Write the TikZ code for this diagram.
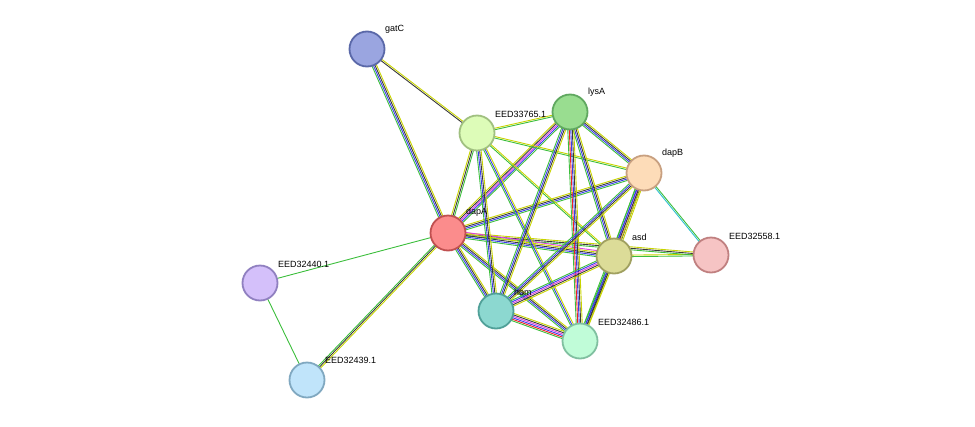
\documentclass[tikz,border=0pt]{standalone}
\usepackage{fontspec}
\setmainfont{Liberation Sans}
\usetikzlibrary{calc}
\definecolor{sG}{HTML}{3CBE3C}\definecolor{sK}{HTML}{3A3A3A}\definecolor{sY}{HTML}{C8D400}
\definecolor{sB}{HTML}{3A3AEE}\definecolor{sM}{HTML}{E040E0}\definecolor{sC}{HTML}{30C0D0}\definecolor{sR}{HTML}{EE2020}
\newcommand\stedge[4]{\foreach \c [count=\i] in {#4}{\pgfmathsetmacro\o{(\i-(#3+1)/2)*1.5}
 \draw[\c,line width=0.9pt] ($(#1)!\o pt!90:(#2)$) -- ($(#2)!\o pt!-90:(#1)$);}}
\begin{document}
\begin{tikzpicture}[x=1pt,y=-1pt,
 nd/.style={circle,minimum size=35pt,inner sep=0pt,line width=1.8pt},
 lb/.style={anchor=south west,font=\fontsize{9}{10}\selectfont,inner sep=0pt}]
\useasboundingbox (0,0) rectangle (975,426);
\coordinate (gatC) at (367,49);
\coordinate (e765) at (477,133);
\coordinate (lysA) at (570,112);
\coordinate (dapB) at (644,173);
\coordinate (dapA) at (448,233);
\coordinate (asd) at (614,256);
\coordinate (e558) at (711,255);
\coordinate (e440) at (260,283);
\coordinate (hom) at (496,311);
\coordinate (e486) at (580,341);
\coordinate (e439) at (307,380);
\stedge{gatC}{dapA}{4}{sG,sB,sK,sY}
\stedge{gatC}{e765}{2}{sK,sY}
\stedge{dapA}{e440}{1}{sG}
\stedge{e440}{e439}{1}{sG}
\stedge{dapA}{e439}{3}{sG,sK,sY}
\stedge{dapB}{e558}{2}{sC,sG}
\stedge{asd}{e558}{2}{sG,sY}
\stedge{dapA}{e558}{3}{sG,sK,sY}
\stedge{dapA}{lysA}{5}{sG,sB,sM,sK,sY}
\stedge{dapA}{dapB}{4}{sG,sB,sK,sY}
\stedge{dapA}{asd}{5}{sG,sB,sK,sY,sM}
\stedge{dapA}{hom}{4}{sG,sB,sK,sY}
\stedge{dapA}{e486}{4}{sG,sB,sK,sY}
\stedge{dapA}{e765}{3}{sG,sK,sY}
\stedge{e765}{lysA}{2}{sG,sY}
\stedge{e765}{dapB}{2}{sG,sY}
\stedge{e765}{asd}{2}{sG,sY}
\stedge{e765}{hom}{4}{sG,sB,sK,sY}
\stedge{e765}{e486}{3}{sG,sB,sY}
\stedge{lysA}{dapB}{4}{sG,sB,sK,sY}
\stedge{lysA}{asd}{4}{sG,sB,sK,sY}
\stedge{lysA}{hom}{4}{sG,sB,sK,sY}
\stedge{lysA}{e486}{5}{sG,sR,sB,sK,sY}
\stedge{dapB}{asd}{5}{sG,sB,sM,sK,sY}
\stedge{dapB}{hom}{4}{sG,sB,sK,sY}
\stedge{dapB}{e486}{4}{sG,sB,sK,sY}
\stedge{asd}{hom}{5}{sG,sB,sM,sK,sY}
\stedge{asd}{e486}{4}{sG,sB,sK,sY}
\stedge{hom}{e486}{6}{sG,sR,sB,sM,sK,sY}
\node[nd,fill={rgb,255:red,154;green,165;blue,224},draw={rgb,255:red,90;green,104;blue,168}] (ngatC) at (gatC) {};
\node[nd,fill={rgb,255:red,221;green,252;blue,184},draw={rgb,255:red,160;green,192;blue,128}] (ne765) at (e765) {};
\node[lb] (l765) at (495,118) {EED33765.1};
\node[nd,fill={rgb,255:red,153;green,221;blue,144},draw={rgb,255:red,96;green,168;blue,96}] (nlysA) at (lysA) {};
\node[nd,fill={rgb,255:red,253;green,220;blue,184},draw={rgb,255:red,200;green,160;blue,128}] (ndapB) at (dapB) {};
\node[nd,fill={rgb,255:red,251;green,140;blue,140},draw={rgb,255:red,192;green,80;blue,80}] (ndapA) at (dapA) {};
\node[nd,fill={rgb,255:red,220;green,220;blue,152},draw={rgb,255:red,160;green,160;blue,96}] (nasd) at (asd) {};
\node[nd,fill={rgb,255:red,246;green,196;blue,196},draw={rgb,255:red,192;green,128;blue,128}] (ne558) at (e558) {};
\node[nd,fill={rgb,255:red,212;green,192;blue,250},draw={rgb,255:red,144;green,128;blue,192}] (ne440) at (e440) {};
\node[nd,fill={rgb,255:red,140;green,216;blue,208},draw={rgb,255:red,80;green,160;blue,152}] (nhom) at (hom) {};
\node[nd,fill={rgb,255:red,192;green,252;blue,216},draw={rgb,255:red,128;green,192;blue,160}] (ne486) at (e486) {};
\node[nd,fill={rgb,255:red,192;green,228;blue,250},draw={rgb,255:red,128;green,168;blue,192}] (ne439) at (e439) {};
\node[lb] at (385,34) {gatC};
\node[lb] at (588,97) {lysA};
\node[lb] at (662,158) {dapB};
\node[lb] at (466,217) {dapA};
\node[lb] at (632,241) {asd};
\node[lb] at (729,240) {EED32558.1};
\node[lb] at (278,268) {EED32440.1};
\node[lb] at (514,296) {hom};
\node[lb] at (598,326) {EED32486.1};
\node[lb] at (325,364) {EED32439.1};
\end{tikzpicture}
\end{document}
